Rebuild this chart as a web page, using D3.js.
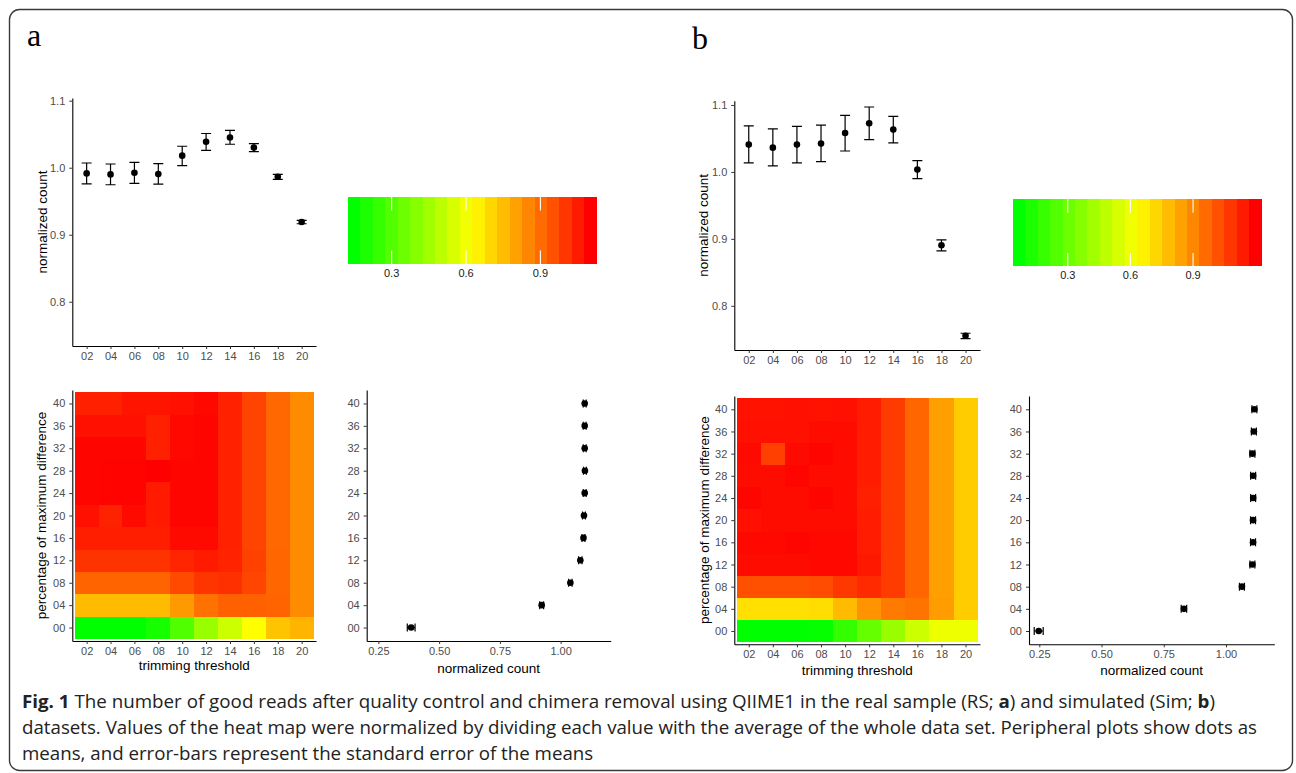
<!DOCTYPE html>
<html>
<head>
<meta charset="utf-8">
<script src="https://cdn.jsdelivr.net/npm/d3@7"></script>
<style>
  body { margin: 0; background: #fff; }
  svg { display: block; }
</style>
</head>
<body>
<svg id="fig" width="1296" height="773"></svg>
<script>
// categories
const thresholds = ['02', '04', '06', '08', '10', '12', '14', '16', '18', '20'];
const differences = ['00', '04', '08', '12', '16', '20', '24', '28', '32', '36', '40'];

// tick values
const topTicks = [0.8, 0.9, 1.0, 1.1];
const sideTicks = [0.25, 0.5, 0.75, 1.0];
const legendTicks = [0.3, 0.6, 0.9];

// panel a: real sample
const aTopMean = [0.9915, 0.990, 0.9925, 0.9905, 1.018, 1.0388, 1.045, 1.030, 0.9866, 0.9189];
const aTopLow = [0.976, 0.9746, 0.9766, 0.9756, 1.003, 1.026, 1.035, 1.024, 0.9826, 0.9164];
const aTopHigh = [1.007, 1.0055, 1.008, 1.006, 1.032, 1.051, 1.0557, 1.036, 0.990, 0.9214];
const aSideMean = [0.385, 0.922, 1.040, 1.081, 1.094, 1.096, 1.099, 1.100, 1.099, 1.099, 1.099];
const aSideErr = [0.016, 0.008, 0.007, 0.007, 0.006, 0.006, 0.006, 0.006, 0.006, 0.006, 0.006];
const aFillRange = [0.149, 1.102];
// rows follow differences (00 at bottom), columns follow thresholds
const aHeat = [
  [0.149, 0.149, 0.149, 0.188, 0.298, 0.435, 0.530, 0.625, 0.736, 0.766],
  [0.753, 0.753, 0.753, 0.753, 0.816, 0.890, 0.923, 0.923, 0.915, 0.840],
  [0.915, 0.915, 0.915, 0.915, 0.964, 1.003, 1.012, 0.973, 0.911, 0.840],
  [1.007, 1.007, 1.007, 1.007, 1.033, 1.053, 1.036, 0.980, 0.911, 0.840],
  [1.046, 1.046, 1.046, 1.046, 1.083, 1.083, 1.040, 0.976, 0.908, 0.840],
  [1.072, 1.038, 1.083, 1.053, 1.093, 1.093, 1.040, 0.976, 0.908, 0.840],
  [1.093, 1.096, 1.096, 1.053, 1.093, 1.093, 1.040, 0.976, 0.908, 0.840],
  [1.093, 1.096, 1.096, 1.102, 1.093, 1.093, 1.040, 0.976, 0.908, 0.840],
  [1.093, 1.093, 1.093, 1.042, 1.087, 1.093, 1.040, 0.976, 0.908, 0.840],
  [1.072, 1.072, 1.072, 1.042, 1.087, 1.093, 1.040, 0.976, 0.908, 0.840],
  [1.042, 1.042, 1.065, 1.065, 1.072, 1.087, 1.040, 0.976, 0.908, 0.840]
];

// panel b: simulated
const bTopMean = [1.0408, 1.0363, 1.0408, 1.0423, 1.0582, 1.0726, 1.0632, 1.0035, 0.8905, 0.7552];
const bTopLow = [1.0134, 1.009, 1.0134, 1.0154, 1.0313, 1.0483, 1.0433, 0.990, 0.882, 0.751];
const bTopHigh = [1.0687, 1.0642, 1.068, 1.070, 1.0846, 1.097, 1.083, 1.0169, 0.8985, 0.759];
const bSideMean = [0.2476, 0.831, 1.064, 1.106, 1.1086, 1.1086, 1.109, 1.109, 1.106, 1.112, 1.114];
const bSideErr = [0.018, 0.011, 0.010, 0.010, 0.010, 0.010, 0.010, 0.010, 0.010, 0.010, 0.010];
const bFillRange = [0.066, 1.199];
const bHeat = [
  [0.066, 0.066, 0.066, 0.077, 0.179, 0.293, 0.406, 0.519, 0.595, 0.599],
  [0.701, 0.701, 0.701, 0.708, 0.784, 0.870, 0.928, 0.941, 0.852, 0.746],
  [1.021, 1.021, 1.021, 1.030, 1.075, 1.106, 1.066, 0.972, 0.844, 0.746],
  [1.172, 1.172, 1.172, 1.181, 1.181, 1.146, 1.066, 0.972, 0.844, 0.746],
  [1.181, 1.181, 1.188, 1.181, 1.181, 1.137, 1.066, 0.972, 0.844, 0.746],
  [1.163, 1.172, 1.172, 1.172, 1.172, 1.137, 1.066, 0.972, 0.844, 0.746],
  [1.188, 1.172, 1.172, 1.188, 1.172, 1.128, 1.066, 0.972, 0.844, 0.746],
  [1.172, 1.172, 1.188, 1.172, 1.172, 1.137, 1.066, 0.972, 0.844, 0.746],
  [1.177, 1.057, 1.177, 1.188, 1.172, 1.137, 1.066, 0.972, 0.844, 0.746],
  [1.163, 1.163, 1.163, 1.172, 1.172, 1.137, 1.066, 0.972, 0.844, 0.746],
  [1.159, 1.159, 1.163, 1.159, 1.163, 1.137, 1.066, 0.972, 0.844, 0.746]
];

const FONT = 'Liberation Sans, Arial, Helvetica, sans-serif';
const svg = d3.select('#fig');

// frame
svg.append('rect')
  .attr('x', 9.5).attr('y', 9.5)
  .attr('width', 1283).attr('height', 761)
  .attr('rx', 10).attr('ry', 10)
  .attr('fill', 'none')
  .attr('stroke', '#3a3a3a')
  .attr('stroke-width', 1.4);

const styleAxis = g => {
  g.attr('font-family', FONT).attr('font-size', 11);
  g.select('.domain').attr('stroke', '#000').attr('stroke-width', 1.1);
  g.selectAll('.tick line').attr('stroke', '#333').attr('stroke-width', 1);
  g.selectAll('.tick text').attr('fill', '#4d4d4d');
};

const axisTitle = (x, y, text, rotate) => {
  svg.append('text')
    .attr('transform', rotate ? `translate(${x},${y}) rotate(-90)` : `translate(${x},${y})`)
    .attr('text-anchor', 'middle')
    .attr('font-family', FONT)
    .attr('font-size', 13.5)
    .attr('fill', '#000')
    .text(text);
};

const fillScale = range => d3.scaleLinear()
  .domain([range[0], (range[0] + range[1]) / 2, range[1]])
  .range(['#00ff00', '#ffff00', '#ff0000']);

// top plot: mean and error bar for each trimming threshold
const drawTop = (f, mean, low, high) => {
  const x = d3.scalePoint().domain(thresholds).range([f.left, f.right]).padding(0.6);
  const y = d3.scaleLinear().domain(f.yDomain).range([f.bottom, f.top]);
  const rows = thresholds.map((t, i) => ({ t, m: mean[i], lo: low[i], hi: high[i] }));
  const g = svg.append('g');

  g.selectAll('.bar').data(rows).enter().append('path')
    .attr('d', d => `M${x(d.t) - 5},${y(d.hi)}H${x(d.t) + 5}M${x(d.t)},${y(d.hi)}V${y(d.lo)}M${x(d.t) - 5},${y(d.lo)}H${x(d.t) + 5}`)
    .attr('stroke', '#000').attr('stroke-width', 1.2).attr('fill', 'none');
  g.selectAll('.pt').data(rows).enter().append('circle')
    .attr('cx', d => x(d.t)).attr('cy', d => y(d.m)).attr('r', 3.3).attr('fill', '#000');

  svg.append('g').attr('transform', `translate(${f.left},0)`)
    .call(d3.axisLeft(y).tickValues(topTicks).tickFormat(d3.format('.1f')).tickSize(3).tickSizeOuter(0).tickPadding(4))
    .call(styleAxis);
  svg.append('g').attr('transform', `translate(0,${f.bottom})`)
    .call(d3.axisBottom(x).tickSize(3).tickSizeOuter(0).tickPadding(3))
    .call(styleAxis);
  axisTitle(f.titleX, (f.top + f.bottom) / 2, 'normalized count', true);
};

// heat map: thresholds x differences
const drawHeat = (f, matrix, range) => {
  const x = d3.scalePoint().domain(thresholds).range([f.left, f.right]).padding(0.6);
  const y = d3.scalePoint().domain(differences).range([f.bottom, f.top]).padding(0.6);
  const color = fillScale(range);
  const cells = [];
  differences.forEach((dd, r) => thresholds.forEach((t, c) => cells.push({ t, dd, v: matrix[r][c] })));

  svg.append('g').selectAll('rect').data(cells).enter().append('rect')
    .attr('x', d => x(d.t) - x.step() / 2)
    .attr('y', d => y(d.dd) - y.step() / 2)
    .attr('width', x.step() + 0.4)
    .attr('height', y.step() + 0.4)
    .attr('fill', d => color(d.v))
    .attr('shape-rendering', 'crispEdges');

  svg.append('g').attr('transform', `translate(${f.left},0)`)
    .call(d3.axisLeft(y).tickSize(3).tickSizeOuter(0).tickPadding(4))
    .call(styleAxis);
  svg.append('g').attr('transform', `translate(0,${f.bottom})`)
    .call(d3.axisBottom(x).tickSize(3).tickSizeOuter(0).tickPadding(3))
    .call(styleAxis);
  axisTitle(f.titleX, (f.top + f.bottom) / 2, 'percentage of maximum difference', true);
  axisTitle((f.left + f.right) / 2, f.xTitleY, 'trimming threshold', false);
};

// side plot: mean and error bar for each difference level
const drawSide = (f, mean, err) => {
  const x = d3.scaleLinear().domain(f.xDomain).range([f.left, f.right]);
  const y = d3.scalePoint().domain(differences).range([f.bottom, f.top]).padding(0.6);
  const rows = differences.map((dd, i) => ({ dd, m: mean[i], e: err[i] }));
  const g = svg.append('g');

  g.selectAll('.bar').data(rows).enter().append('path')
    .attr('d', d => {
      const x0 = x(d.m - d.e), x1 = x(d.m + d.e), yy = y(d.dd);
      return `M${x0},${yy - 4}V${yy + 4}M${x0},${yy}H${x1}M${x1},${yy - 4}V${yy + 4}`;
    })
    .attr('stroke', '#000').attr('stroke-width', 1.2).attr('fill', 'none');
  g.selectAll('.pt').data(rows).enter().append('circle')
    .attr('cx', d => x(d.m)).attr('cy', d => y(d.dd)).attr('r', 3.3).attr('fill', '#000');

  svg.append('g').attr('transform', `translate(${f.left},0)`)
    .call(d3.axisLeft(y).tickSize(3).tickSizeOuter(0).tickPadding(4))
    .call(styleAxis);
  svg.append('g').attr('transform', `translate(0,${f.bottom})`)
    .call(d3.axisBottom(x).tickValues(sideTicks).tickFormat(d3.format('.2f')).tickSize(3).tickSizeOuter(0).tickPadding(3))
    .call(styleAxis);
  axisTitle((f.left + f.right) / 2, f.xTitleY, 'normalized count', false);
};

// colour bar legend, 20 bins as in ggplot's colourbar
const drawLegend = (f, range) => {
  const nbin = 20;
  const binW = (f.right - f.left) / nbin;
  const color = fillScale(range);
  const pos = d3.scaleLinear().domain(range).range([f.left + binW / 2, f.right - binW / 2]);
  const bins = d3.range(nbin).map(i => range[0] + i * (range[1] - range[0]) / (nbin - 1));
  const g = svg.append('g');

  g.selectAll('rect').data(bins).enter().append('rect')
    .attr('x', (d, i) => f.left + i * binW)
    .attr('y', f.top)
    .attr('width', binW + 0.5)
    .attr('height', f.bottom - f.top)
    .attr('fill', d => color(d))
    .attr('shape-rendering', 'crispEdges');

  const tl = (f.bottom - f.top) / 5;
  g.selectAll('.tk').data(legendTicks).enter().append('path')
    .attr('d', d => `M${pos(d)},${f.top}v${tl}M${pos(d)},${f.bottom}v${-tl}`)
    .attr('stroke', '#fff').attr('stroke-width', 1.1);
  g.selectAll('.lb').data(legendTicks).enter().append('text')
    .attr('x', d => pos(d)).attr('y', f.bottom + 12.5)
    .attr('text-anchor', 'middle')
    .attr('font-family', FONT).attr('font-size', 11)
    .attr('fill', '#1a1a1a')
    .text(d3.format('.1f'));
};

// panel layout
const layoutA = {
  top: { left: 72.3, right: 316, top: 98, bottom: 346, yDomain: [0.734, 1.104], titleX: 46.5 },
  heat: { left: 72.3, right: 316, top: 390, bottom: 641, titleX: 46, xTitleY: 670 },
  side: { left: 366.7, right: 610.7, top: 390, bottom: 641, xDomain: [0.202, 1.206], xTitleY: 672.5 },
  legend: { left: 348, right: 596.7, top: 197, bottom: 264 }
};
const layoutB = {
  top: { left: 734.3, right: 980, top: 100.7, bottom: 350, yDomain: [0.734, 1.1064], titleX: 707.5 },
  heat: { left: 734.3, right: 980, top: 396, bottom: 644.3, titleX: 709, xTitleY: 674.5 },
  side: { left: 1029, right: 1274.3, top: 396, bottom: 644.3, xDomain: [0.2086, 1.194], xTitleY: 674.5 },
  legend: { left: 1012.7, right: 1261.7, top: 199.3, bottom: 266.3 }
};

drawTop(layoutA.top, aTopMean, aTopLow, aTopHigh);
drawHeat(layoutA.heat, aHeat, aFillRange);
drawSide(layoutA.side, aSideMean, aSideErr);
drawLegend(layoutA.legend, aFillRange);

drawTop(layoutB.top, bTopMean, bTopLow, bTopHigh);
drawHeat(layoutB.heat, bHeat, bFillRange);
drawSide(layoutB.side, bSideMean, bSideErr);
drawLegend(layoutB.legend, bFillRange);

// panel letters
svg.append('text').attr('x', 27).attr('y', 46)
  .attr('font-family', 'Liberation Serif, Times New Roman, serif').attr('font-size', 32)
  .text('a');
svg.append('text').attr('x', 692).attr('y', 49)
  .attr('font-family', 'Liberation Serif, Times New Roman, serif').attr('font-size', 32)
  .text('b');

// caption; line 2 is squeezed to the reference width, and line 3 uses the same squeeze
const captionLines = [
  { y: 708, len: 1193, parts: [['Fig. 1', true], [' The number of good reads after quality control and chimera removal using QIIME1 in the real sample (RS; ', false], ['a', true], [') and simulated (Sim; ', false], ['b', true], [')', false]] },
  { y: 734, len: 1235, parts: [['datasets. Values of the heat map were normalized by dividing each value with the average of the whole data set. Peripheral plots show dots as', false]] },
  { y: 760, len: null, parts: [['means, and error-bars represent the standard error of the means', false]] }
];
const captionText = captionLines.map(line => {
  const t = svg.append('text')
    .attr('x', 22).attr('y', line.y)
    .attr('font-family', 'Open Sans, Noto Sans, sans-serif')
    .attr('font-size', 18)
    .attr('fill', '#222');
  line.parts.forEach(p => {
    t.append('tspan').attr('font-weight', p[1] ? 700 : 400).text(p[0]);
  });
  return t;
});
const squeeze = 1235 / captionText[1].node().getComputedTextLength();
captionText.forEach((t, i) => {
  const len = captionLines[i].len || t.node().getComputedTextLength() * squeeze;
  t.attr('textLength', len).attr('lengthAdjust', 'spacingAndGlyphs');
});
</script>
</body>
</html>
